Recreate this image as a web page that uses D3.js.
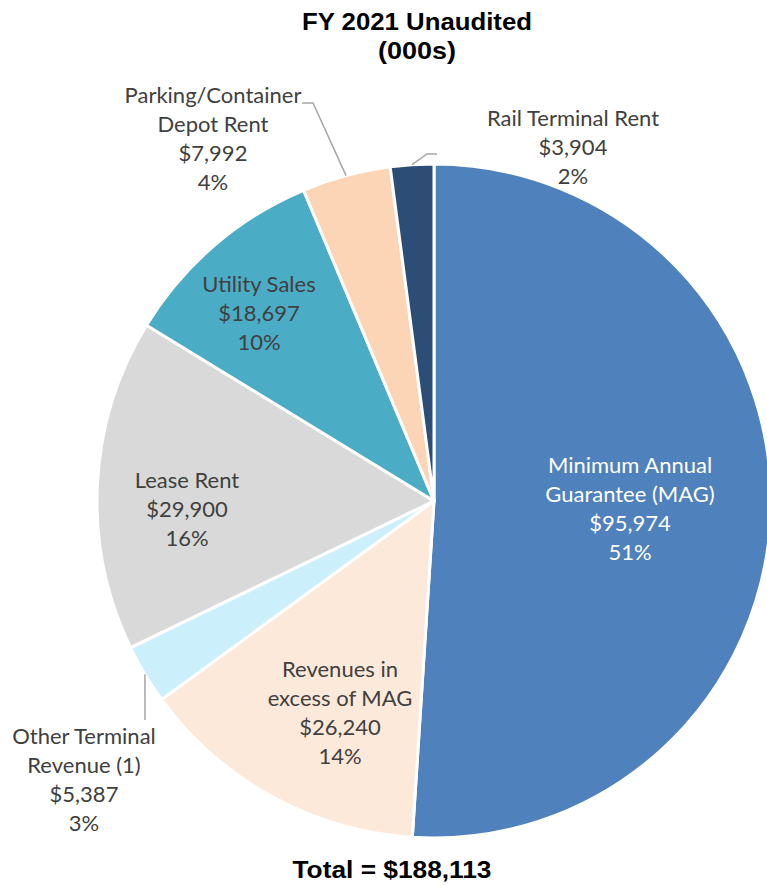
<!DOCTYPE html>
<html>
<head>
<meta charset="utf-8">
<script src="https://cdn.jsdelivr.net/npm/d3@7"></script>
<style>
  html, body { margin: 0; padding: 0; background: #fff; }
  svg { display: block; }
</style>
</head>
<body>
<svg id="chart" width="767" height="885"></svg>
<script>
// ---- data ----
const categories = [
  "Minimum Annual Guarantee (MAG)",
  "Revenues in excess of MAG",
  "Other Terminal Revenue (1)",
  "Lease Rent",
  "Utility Sales",
  "Parking/Container Depot Rent",
  "Rail Terminal Rent"
];
const values = [95974, 26240, 5387, 29900, 18697, 7992, 3904];
const labelLines = [
  ["Minimum Annual", "Guarantee (MAG)"],
  ["Revenues in", "excess of MAG"],
  ["Other Terminal", "Revenue (1)"],
  ["Lease Rent"],
  ["Utility Sales"],
  ["Parking/Container", "Depot Rent"],
  ["Rail Terminal Rent"]
];
const colors = ["#4F81BD", "#FDE9D9", "#CCEFFC", "#D9D9D9", "#4BACC6", "#FBD5B5", "#2C4D75"];
const titleLines = ["FY 2021 Unaudited", "(000s)"];
const totalText = "Total = $188,113";

// ---- layout ----
const cx = 434, cy = 501, R = 337;
const lineH = 29;
// label anchor: x centre, first baseline y, text colour
const labelLayout = [
  {x: 630, y: 473, fill: "#ffffff"},
  {x: 340, y: 677, fill: "#404040"},
  {x: 84,  y: 744, fill: "#404040"},
  {x: 187, y: 488, fill: "#404040"},
  {x: 259, y: 292, fill: "#404040"},
  {x: 213, y: 103, fill: "#404040"},
  {x: 573, y: 126, fill: "#404040"}
];
// leader polylines (after the point on the slice edge)
const leaders = {
  5: [[313, 103], [302, 103]],
  6: [[427, 154], [437, 154]],
  2: [[145, 720]]
};

const svg = d3.select("#chart");

const pie = d3.pie().sort(null).value(d => d)
  .startAngle(0).endAngle(2 * Math.PI);
const arcs = pie(values);
const total = d3.sum(values);
const arc = d3.arc().innerRadius(0).outerRadius(R);

const g = svg.append("g").attr("transform", `translate(${cx},${cy})`);
g.selectAll("path.slice")
  .data(arcs)
  .enter().append("path")
  .attr("class", "slice")
  .attr("d", arc)
  .attr("fill", (d, i) => colors[i])
  .attr("stroke", "#ffffff")
  .attr("stroke-width", 3)
  .attr("stroke-linejoin", "round");

// leader lines
Object.keys(leaders).forEach(k => {
  const i = +k;
  const a = (arcs[i].startAngle + arcs[i].endAngle) / 2;
  const p0 = [cx + R * Math.sin(a), cy - R * Math.cos(a)];
  const pts = [p0].concat(leaders[k]);
  svg.append("path")
    .attr("d", d3.line()(pts))
    .attr("fill", "none")
    .attr("stroke", "#a6a6a6")
    .attr("stroke-width", 1.5);
});

// labels
const fmt = d3.format("$,");
arcs.forEach((d, i) => {
  const L = labelLayout[i];
  const lines = labelLines[i].concat([fmt(values[i]), Math.round(values[i] / total * 100) + "%"]);
  const t = svg.append("text")
    .attr("text-anchor", "middle")
    .attr("font-family", "Lato, 'Open Sans', sans-serif")
    .attr("font-size", 22)
    .attr("fill", L.fill);
  lines.forEach((s, j) => {
    t.append("tspan").attr("x", L.x).attr("y", L.y + j * lineH).text(s);
  });
});

// title
titleLines.forEach((s, j) => {
  svg.append("text")
    .attr("x", 417).attr("y", 30 + j * 29)
    .attr("text-anchor", "middle")
    .attr("font-family", "'Liberation Sans', Arial, sans-serif")
    .attr("font-weight", "bold")
    .attr("font-size", 24)
    .attr("textLength", j === 0 ? 230 : 78)
    .attr("lengthAdjust", "spacingAndGlyphs")
    .attr("fill", "#000")
    .text(s);
});

// total
svg.append("text")
  .attr("x", 392).attr("y", 878)
  .attr("text-anchor", "middle")
  .attr("font-family", "'Liberation Sans', Arial, sans-serif")
  .attr("font-weight", "bold")
  .attr("font-size", 24)
  .attr("textLength", 199)
  .attr("lengthAdjust", "spacingAndGlyphs")
  .attr("fill", "#000")
  .text(totalText);
</script>
</body>
</html>
